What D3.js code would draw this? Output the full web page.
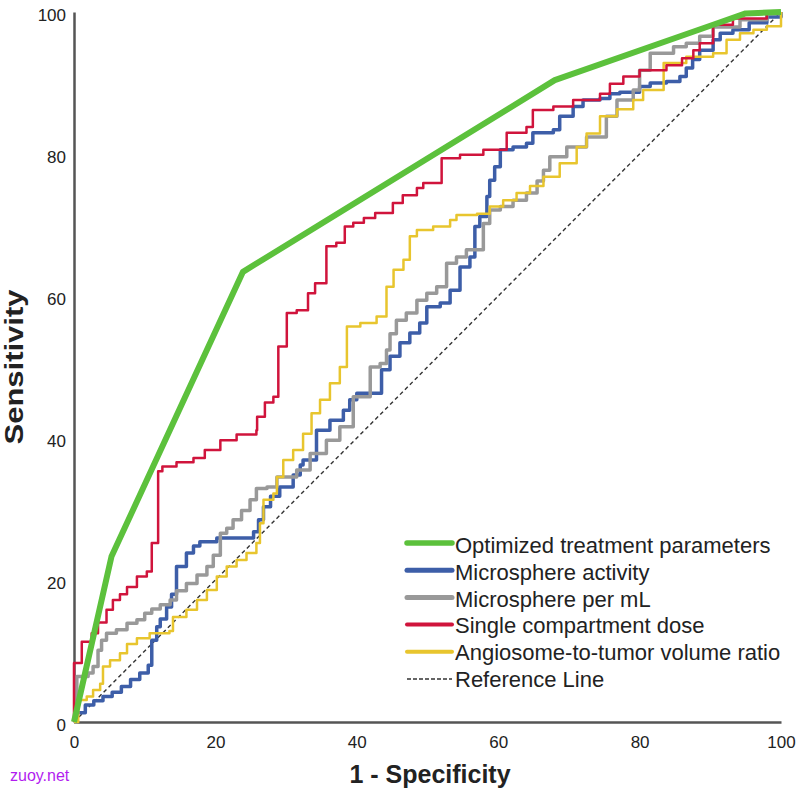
<!DOCTYPE html>
<html lang="en">
  <head>
    <meta charset="utf-8" />
    <title>ROC curves</title>
    <script src="https://d3js.org/d3.v7.min.js"></script>
    <style type="text/css">
        body { margin:0; background:#fff; }
        text { font-family:"Liberation Sans", Arial, sans-serif; fill:#222; }
    </style>
  </head>
  <body>
    <svg id="chart"></svg>
  </body>
  <script type="text/javascript">

    var w = 800,
        h = 792;

    // [1 - specificity, sensitivity] in %
    var optimized = [[0,0],[5.3,23.3],[23.9,63.4],[68,90.4],[90.4,98.2],[95,99.8],[100,100]];

    var activity = [[0,0],[0.4,1.3],[1.6,2.4],[2.8,3],[4.1,3.6],[5.4,4.2],[6.7,5],[8,6],[9.3,6.9],
                    [10.5,8],[11,11.5],[11.7,13.4],[12.2,14.5],[13.1,16.2],[13.8,18],[14.5,21.9],
                    [15.9,23.8],[16.9,24.8],[17.8,25.4],[20.2,25.9],[24.5,25.9],[25.4,26.8],
                    [26.1,28.5],[26.8,30.3],[27.8,31.8],[29.1,33.1],[31,34.8],[32,36.2],[32.4,36.9],
                    [34.3,41.1],[36.2,42.5],[38.1,43.9],[39,45.4],[40,46.3],[43.5,49.6],[44.7,51.5],
                    [46.1,53.4],[47.5,54.8],[48.9,56.2],[49.9,58.5],[51.8,59],[53.2,60.8],[54.6,64.1],
                    [56,65.5],[56.7,69.8],[57.4,71.2],[58.4,74],[58.8,76.3],[59.5,78.2],[60.3,80.6],
                    [62.1,81],[64,81.5],[64.9,83],[67.8,83.4],[68.7,85.3],[70.6,86.7],[72,87.6],
                    [74.4,87.8],[75.8,88.5],[77.2,88.7],[80,89.5],[81.5,90],[83.8,90.2],[85.7,90.9],
                    [86.6,92.1],[87.5,93.3],[88.5,94.6],[90.4,96.1],[91.4,97],[93.2,97.5],[95.5,98.5],
                    [98,99.3],[100,100]];

    var perML = [[0,0],[0.4,6.4],[2,6.9],[2.7,7.8],[3.4,10.1],[3.9,11.5],[4.6,12.5],[6,13],[7.5,13.9],
                 [8.9,14.4],[10,15.3],[11,15.9],[12.2,16.5],[13.6,17.2],[14.5,18.5],[15.9,19.5],
                 [17.4,20.7],[18.8,21.9],[19.7,23.5],[20.7,26.6],[21.6,27.3],[22.5,28.5],[23.7,29.8],
                 [24.9,31.3],[25.8,32.9],[27.3,33.1],[28.7,34.5],[31.5,35.5],[33.4,37.8],[35.7,39.7],
                 [37.6,41.6],[39.5,45.8],[41.9,46.3],[41.9,50],[43.3,50.5],[44.2,52.4],[44.7,54.7],
                 [45.6,56.6],[47,57.6],[48.5,59.4],[49.9,60.4],[51.3,61.3],[52.7,64.6],[54.1,65.5],
                 [55.5,66.5],[57.9,70.2],[58.8,72.1],[60.3,72.6],[62.1,73.5],[64,74.5],[65.5,76.2],
                 [66.4,77.7],[67.3,79.6],[69.7,81],[72.5,82.4],[75.3,85.3],[76.8,87.6],[79.1,89],
                 [80,91.8],[81.5,94.2],[84.8,95.1],[86.6,95.6],[88.5,96.6],[90.4,97.9],[94.2,98.9],
                 [98,99.8],[100,100]];

    var singleDose = [[0,0],[0,8.3],[1.1,11.3],[2.5,12.5],[3.4,14],[4.6,15.8],[5.5,17.2],[6.5,18],
                      [7.5,19],[8.9,20.5],[10.3,21.2],[11,25.2],[11.9,35.3],[12.5,36],[14.5,36.6],
                      [16.9,37.2],[18.5,38.3],[20.7,39.7],[23,40.5],[25.8,41.1],[25.9,43],[27,45],
                      [28.2,45.8],[28.9,52.9],[30.1,57.6],[31.5,58],[33.1,60.4],[34.1,61.8],[35.7,67],
                      [37.1,67.5],[38.3,69.8],[39.5,70.3],[41,71],[42.6,71.7],[45.1,73.1],[46.5,74.2],
                      [48.5,75.2],[49.4,75.9],[52,79.4],[54.6,79.9],[57.9,80.6],[61.2,83],[64,83.8],
                      [64.9,86.2],[67.8,86.7],[70.6,87.6],[74.4,88.5],[75.8,89.9],[77.7,90.9],[80,91.8],
                      [83.8,92.5],[86,93.5],[87.6,94.6],[88.5,95.6],[90.4,98.2],[93.2,99.1],[98,100],
                      [100,100]];

    var angiosome = [[0,0],[0.6,3.1],[1.8,3.6],[2.7,4.5],[3.7,5.4],[4.1,7.8],[5.1,8.7],[6.5,9.7],
                     [7.5,11],[8.9,11.8],[10.7,12.5],[13.5,12.8],[14,14.8],[15.9,15.8],[17.4,17.2],
                     [18.8,18.6],[20.2,20.5],[21.6,21.9],[23,22.8],[24.4,23.8],[25.8,25.2],[26.3,28],
                     [26.8,31.3],[28.2,32.2],[28.7,34.5],[29.6,36.9],[31,38.3],[32.4,40.6],[33.6,43.5],
                     [34.8,45.4],[36.2,47.7],[37.6,50],[38.6,55.7],[40.5,56.2],[42.8,57.1],[44.2,61.3],
                     [45.2,63.7],[46.6,65.1],[47.5,68.4],[48.5,69.3],[50.8,69.8],[53.2,70.7],[54.1,71.4],
                     [57,71.6],[58.8,72.6],[60.7,73.5],[62.6,74.5],[64.5,75.5],[66.4,76.8],[68.7,78.7],
                     [71.1,81],[72.5,82.9],[74.4,85.3],[76.8,86.3],[79.1,87.6],[80.5,89],[83.4,92.8],
                     [86.6,93.7],[90.4,94.2],[92.3,96.1],[94.2,97],[96.1,97.5],[98,98],[100,98.9],
                     [100,100]];

    var reference = [[0,0],[100,100]];

    var xTicks = [0, 20, 40, 60, 80, 100];
    var yTicks = [0, 20, 40, 60, 80, 100];

    var legendLabels = ['Optimized treatment parameters', 'Microsphere activity', 'Microsphere per mL',
                        'Single compartment dose', 'Angiosome-to-tumor volume ratio', 'Reference Line'];

    var series = [
        { data: reference,  color: '#333', width: 1.4, dash: '4,3', step: false },
        { data: activity,   color: '#3d5ea8', width: 3.5, step: true },
        { data: perML,      color: '#999999', width: 3.5, step: true },
        { data: angiosome,  color: '#e8c52e', width: 2.5, step: true },
        { data: singleDose, color: '#d0143c', width: 2.5, step: true },
        { data: optimized,  color: '#5cc13c', width: 6, step: false }
    ];
    var legendStyle = [
        { color: '#5cc13c', width: 5.5 },
        { color: '#3d5ea8', width: 5 },
        { color: '#999999', width: 5 },
        { color: '#d0143c', width: 4 },
        { color: '#e8c52e', width: 4 },
        { color: '#333', width: 1.4, dash: '4,2' }
    ];

    // plot box (window.top is read-only, so no "top" here)
    var plotL = 74, plotT = 12, plotR = 781, plotB = 722;

    var svg = d3.select('#chart')
                .attr('width', w)
                .attr('height', h);

    var xScale = d3.scaleLinear().domain([0, 100]).range([plotL, plotR]);
    var yScale = d3.scaleLinear().domain([0, 100]).range([plotB, plotT]);

    // axes: plain lines, labels only
    var xAxis = svg.append('g')
                   .attr('transform', 'translate(0,' + plotB + ')')
                   .call(d3.axisBottom(xScale).tickValues(xTicks).tickSize(0).tickPadding(14));
    xAxis.select('.domain').attr('stroke', '#555').attr('stroke-width', 2.5);
    xAxis.selectAll('text').style('font-size', '17px').attr('fill', '#222')
         .style('font-family', '"Liberation Sans", Arial, sans-serif');

    var yAxis = svg.append('g')
                   .attr('transform', 'translate(' + plotL + ',0)')
                   .call(d3.axisLeft(yScale).tickValues(yTicks).tickSize(0).tickPadding(8));
    yAxis.select('.domain').attr('stroke', '#555').attr('stroke-width', 2.5);
    yAxis.selectAll('text').style('font-size', '17px').attr('fill', '#222').attr('dy', '0.5em')
         .style('font-family', '"Liberation Sans", Arial, sans-serif');

    var line = d3.line()
                 .x(function(d) { return xScale(d[0]); })
                 .y(function(d) { return yScale(d[1]); });

    series.forEach(function(s) {
        svg.append('path')
           .datum(s.data)
           .attr('fill', 'none')
           .attr('stroke', s.color)
           .attr('stroke-width', s.width)
           .attr('stroke-dasharray', s.dash || null)
           .attr('stroke-linejoin', 'round')
           .attr('d', line.curve(s.step ? d3.curveStepAfter : d3.curveLinear));
    });

    // legend
    var legend = svg.append('g');
    legendLabels.forEach(function(label, i) {
        var y = 553 + i * 26.8;
        var st = legendStyle[i];
        legend.append('line')
              .attr('x1', 407).attr('x2', 452)
              .attr('y1', y - 10 + i * 0.4).attr('y2', y - 10 + i * 0.4)
              .attr('stroke', st.color)
              .attr('stroke-width', st.width)
              .attr('stroke-linecap', st.dash ? 'butt' : 'round')
              .attr('stroke-dasharray', st.dash || null);
        legend.append('text')
              .attr('x', 455)
              .attr('y', y)
              .style('font-size', '22px')
              .text(label);
    });

    // axis titles
    svg.append('text')
       .attr('x', 430)
       .attr('y', 783)
       .attr('text-anchor', 'middle')
       .style('font-size', '25px')
       .style('font-weight', 'bold')
       .attr('fill', '#111')
       .text('1 - Specificity');

    svg.append('text')
       .attr('transform', 'translate(23,367) rotate(-90)')
       .attr('text-anchor', 'middle')
       .attr('textLength', 155)
       .attr('lengthAdjust', 'spacingAndGlyphs')
       .style('font-size', '26px')
       .style('font-weight', 'bold')
       .attr('fill', '#111')
       .text('Sensitivity');

    svg.append('text')
       .attr('x', 10)
       .attr('y', 781)
       .style('font-size', '16px')
       .style('fill', '#b21cf0')
       .text('zuoy.net');
  </script>
</html>
